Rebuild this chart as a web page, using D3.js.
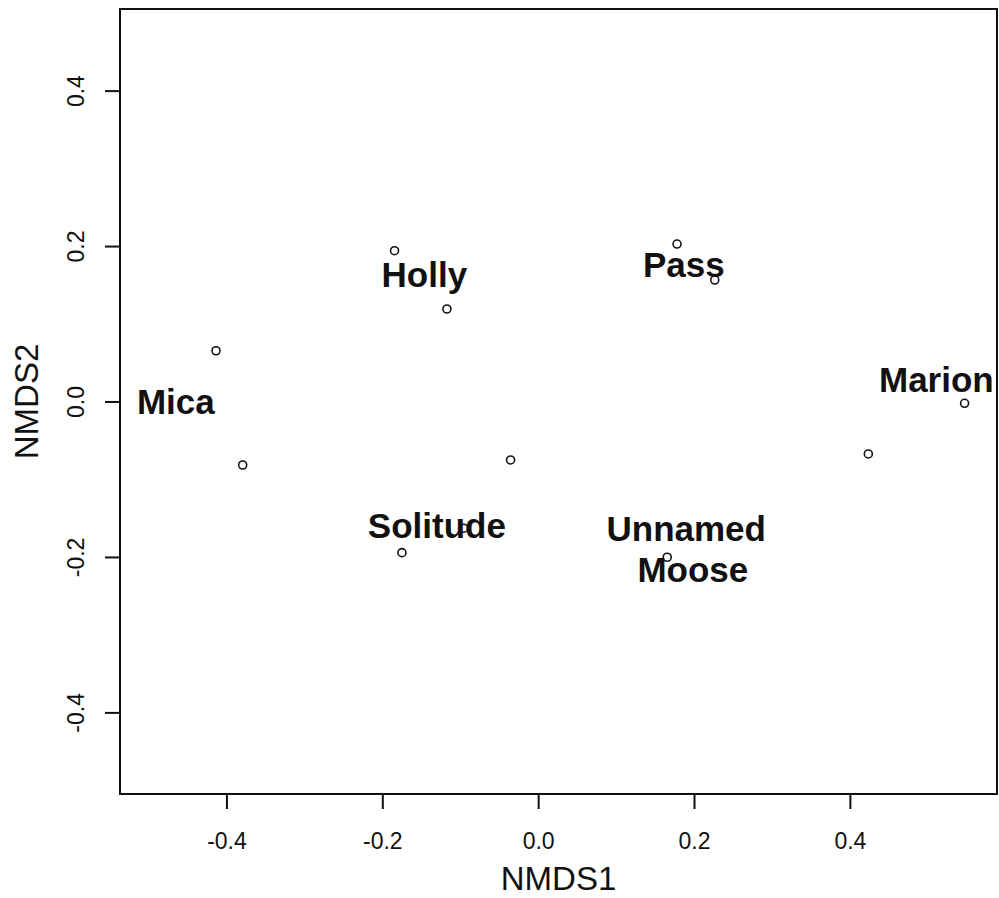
<!DOCTYPE html>
<html>
<head>
<meta charset="utf-8">
<script src="https://cdn.jsdelivr.net/npm/d3@7"></script>
<style>
  body { margin: 0; background: #fff; }
  svg text { font-family: "Liberation Sans", Arial, sans-serif; }
</style>
</head>
<body>
<div id="chart"></div>
<script>
// Site scores (points)
const pointX = [-0.1843, -0.1171, -0.4134, -0.3792, -0.0354, -0.1748, -0.0956, 0.1782, 0.2266, 0.1656, 0.4237, 0.5472];
const pointY = [0.194, 0.119, 0.0653, -0.0817, -0.0752, -0.1945, -0.163, 0.2026, 0.1563, -0.2004, -0.0675, -0.0023];

// Lake labels (centre of text)
const labelNames = ["Holly", "Pass", "Mica", "Solitude", "Unnamed", "Moose", "Marion"];
const labelX = [-0.146, 0.187, -0.465, -0.130, 0.190, 0.1985, 0.511];
const labelY = [0.164, 0.177, 0.0006, -0.1595, -0.1627, -0.2154, 0.0289];

// Tick values and labels
const xTicks = [-0.4, -0.2, 0.0, 0.2, 0.4];
const xTickLabels = ["-0.4", "-0.2", "0.0", "0.2", "0.4"];
const yTicks = [-0.4, -0.2, 0.0, 0.2, 0.4];
const yTickLabels = ["-0.4", "-0.2", "0.0", "0.2", "0.4"];

const width = 999;
const height = 898;
const plotLeft = 120, plotRight = 997, plotTop = 9, plotBottom = 794;

const svg = d3.select("#chart")
  .append("svg")
  .attr("width", width)
  .attr("height", height);

const x = d3.scaleLinear().domain([-0.5366, 0.5888]).range([plotLeft, plotRight]);
const y = d3.scaleLinear().domain([-0.505, 0.505]).range([plotBottom, plotTop]);

// x axis
const gx = svg.append("g")
  .attr("transform", `translate(0,${plotBottom})`)
  .call(d3.axisBottom(x).tickValues(xTicks).tickSize(15)
    .tickFormat((d, i) => xTickLabels[i]));
gx.attr("font-family", null).attr("font-size", null);
gx.select(".domain").remove();
gx.selectAll("line").attr("stroke", "#111").attr("stroke-width", 2);
gx.selectAll("text")
  .attr("y", 55).attr("dy", 0)
  .style("font-size", "23px").style("fill", "#111");

// y axis
const gy = svg.append("g")
  .attr("transform", `translate(${plotLeft},0)`)
  .call(d3.axisLeft(y).tickValues(yTicks).tickSize(15)
    .tickFormat((d, i) => yTickLabels[i]));
gy.attr("font-family", null).attr("font-size", null);
gy.select(".domain").remove();
gy.selectAll("line").attr("stroke", "#111").attr("stroke-width", 2);
gy.selectAll("text")
  .attr("transform", "rotate(-90)")
  .attr("x", 0).attr("y", -36.5).attr("dy", 0)
  .attr("text-anchor", "middle")
  .style("font-size", "23px").style("fill", "#111");

// plot box
svg.append("rect")
  .attr("x", plotLeft).attr("y", plotTop)
  .attr("width", plotRight - plotLeft).attr("height", plotBottom - plotTop)
  .attr("fill", "none").attr("stroke", "#111").attr("stroke-width", 2);

// axis titles
svg.append("text")
  .attr("x", (plotLeft + plotRight) / 2).attr("y", 890)
  .attr("text-anchor", "middle")
  .style("font-size", "33px").style("fill", "#111")
  .text("NMDS1");

svg.append("text")
  .attr("transform", `translate(38,${(plotTop + plotBottom) / 2}) rotate(-90)`)
  .attr("text-anchor", "middle")
  .style("font-size", "33px").style("fill", "#111")
  .text("NMDS2");

// labels
svg.selectAll(".lab")
  .data(labelNames)
  .enter()
  .append("text")
  .attr("class", "lab")
  .attr("x", (d, i) => x(labelX[i]))
  .attr("y", (d, i) => y(labelY[i]))
  .attr("dy", "0.36em")
  .attr("text-anchor", "middle")
  .style("font-size", "35px")
  .style("font-weight", "bold")
  .style("fill", "#111")
  .text((d) => d);

// points (open circles)
svg.selectAll(".pt")
  .data(pointX)
  .enter()
  .append("circle")
  .attr("class", "pt")
  .attr("cx", (d) => x(d))
  .attr("cy", (d, i) => y(pointY[i]))
  .attr("r", 4)
  .attr("fill", "none")
  .attr("stroke", "#111")
  .attr("stroke-width", 1.6);
</script>
</body>
</html>
